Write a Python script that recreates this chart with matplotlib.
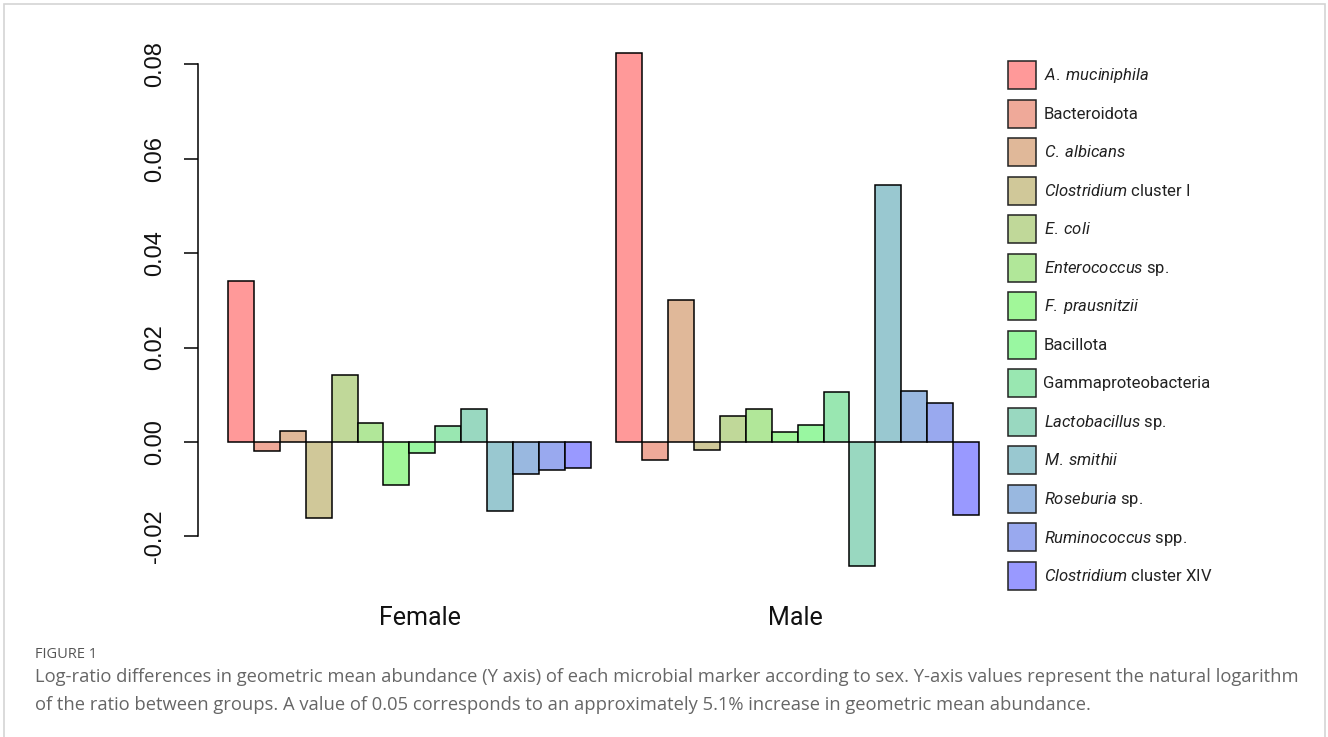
import matplotlib
matplotlib.use("Agg")
import matplotlib.pyplot as plt
from matplotlib import font_manager
from matplotlib.patches import Patch, Rectangle

# marker names: (italic part, roman part)
markers = [
    ("A. muciniphila", ""),
    ("", "Bacteroidota"),
    ("C. albicans", ""),
    ("Clostridium", " cluster I"),
    ("E. coli", ""),
    ("Enterococcus", " sp."),
    ("F. prausnitzii", ""),
    ("", "Bacillota"),
    ("", "Gammaproteobacteria"),
    ("Lactobacillus", " sp."),
    ("M. smithii", ""),
    ("Roseburia", " sp."),
    ("Ruminococcus", " spp."),
    ("Clostridium", " cluster XIV"),
]
groups = ["Female", "Male"]
female = [0.0341, -0.0020, 0.0023, -0.0160, 0.0141, 0.0040, -0.0091,
          -0.0023, 0.0033, 0.0069, -0.0147, -0.0068, -0.0059, -0.0055]
male = [0.0823, -0.0039, 0.0301, -0.0016, 0.0056, 0.0069, 0.0022,
        0.0035, 0.0105, -0.0262, 0.0544, 0.0108, 0.0082, -0.0154]
yticks = [-0.02, 0.00, 0.02, 0.04, 0.06, 0.08]

caption_head = "FIGURE 1"
caption = ("Log-ratio differences in geometric mean abundance (Y axis) of each microbial marker according to sex. "
           "Y-axis values represent the natural logarithm\n"
           "of the ratio between groups. A value of 0.05 corresponds to an approximately 5.1% increase in geometric mean abundance.")

installed = {f.name for f in font_manager.fontManager.ttflist}
narrow = "Liberation Sans Narrow" if "Liberation Sans Narrow" in installed else "Roboto"

plt.rcParams["mathtext.fontset"] = "custom"
plt.rcParams["mathtext.it"] = narrow + ":italic"
plt.rcParams["mathtext.rm"] = narrow


def rainbow_rgb(n):
    # red -> green -> blue ramp, blended with white at alpha 0.4
    cols = []
    for i in range(n):
        t = i / (n - 1) * 2
        if t <= 1:
            rgb = (1 - t, t, 0)
        else:
            rgb = (0, 2 - t, t - 1)
        cols.append(tuple(1 - 0.4 * (1 - c) for c in rgb))
    return cols


colors = rainbow_rgb(len(markers))

W, H = 1328, 737
fig = plt.figure(figsize=(W / 100, H / 100), dpi=100)

# axes placed so data x=1 sits at pixel 228, 25.9 px per bar
left_px, top_px, bot_px = 198, 33, 586
ax = fig.add_axes([left_px / W, 1 - bot_px / H, 811 / W, (bot_px - top_px) / H])

for g, vals in enumerate([female, male]):
    xs = [1 + g * (len(markers) + 1) + i for i in range(len(vals))]
    ax.bar(xs, vals, width=1.0, align="edge", color=colors,
           edgecolor="black", linewidth=1.1)

ax.set_xlim(-0.16, 31.16)
ax.set_ylim(-0.0305, 0.0866)
for s in ["top", "right", "bottom"]:
    ax.spines[s].set_visible(False)
ax.spines["left"].set_bounds(-0.02, 0.08)
ax.spines["left"].set_linewidth(1.1)
ax.set_xticks([])
ax.set_yticks(yticks)
ax.set_yticklabels(["%.2f" % v for v in yticks], rotation=90, va="center",
                   fontsize=17, family="Liberation Sans", color="#111111")
ax.tick_params(axis="y", length=10, width=1.1, pad=13)

label_shift = [0.4, -0.1]
for g, name in enumerate(groups):
    cx = 1 + g * (len(markers) + 1) + len(markers) / 2 + label_shift[g]
    ax.text(cx, -0.0372, name, ha="center", va="center", fontsize=18,
            family=narrow, color="#111111")

labels = []
for it, rm in markers:
    s = ""
    if it:
        s += r"$\it{" + it.replace(" ", r"\:") + "}$"
    s += rm
    labels.append(s)
handles = [Patch(facecolor=c, edgecolor="#222222", linewidth=1.1) for c in colors]
fig.legend(handles, labels, loc="upper left",
           bbox_to_anchor=(1008 / W, 1 - 61 / H), frameon=False,
           prop={"family": narrow, "size": 12}, handlelength=1.68,
           handleheight=2.21, labelspacing=0.63, handletextpad=0.45,
           borderpad=0, borderaxespad=0, labelcolor="#222222")

fig.text(35 / W, 1 - 655 / H, caption_head, fontsize=10.5, family="Open Sans",
         color="#555555", va="center")
fig.text(35 / W, 1 - 691 / H, caption, fontsize=13.25, family="Open Sans",
         color="#666666", va="center", linespacing=1.66)

fig.patches.append(Rectangle((4 / W, -0.01), 1321 / W, 1 - 4 / H + 0.01,
                             transform=fig.transFigure, fill=False,
                             edgecolor="#d4d4d4", linewidth=1.2))

fig.savefig("out.png", dpi=100)
